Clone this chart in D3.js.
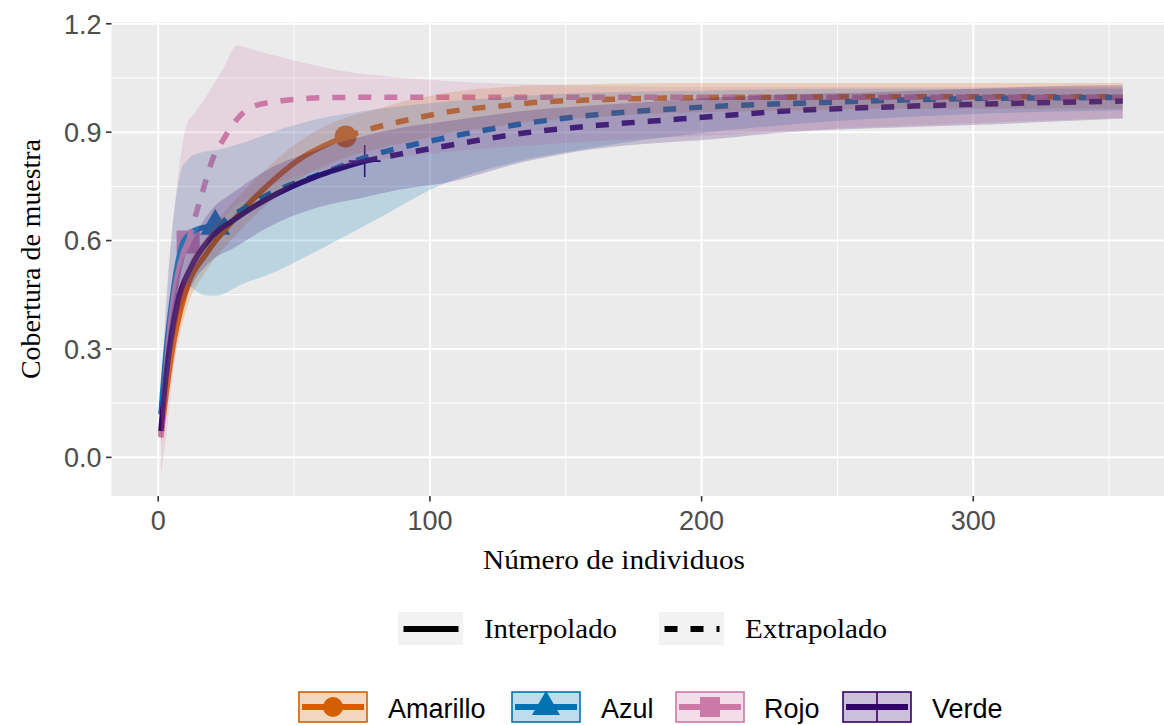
<!DOCTYPE html>
<html lang="es">
<head>
<meta charset="UTF-8">
<title>Cobertura de muestra</title>
<script src="https://d3js.org/d3.v7.min.js"></script>
<style>
  body { margin: 0; background: #fff; }
  svg { display: block; }
  .tick-label { font-family: "Liberation Sans", Arial, sans-serif; font-size: 27px; fill: #4d4d4d; }
  .serif { font-family: "Liberation Serif", "Times New Roman", serif; fill: #000; }
  .leg-label { font-family: "Liberation Sans", Arial, sans-serif; font-size: 27px; fill: #000; }
</style>
</head>
<body>
<svg id="chart" width="1164" height="725"></svg>
<script>
// series
const seriesNames = ["Amarillo", "Azul", "Rojo", "Verde"];
const seriesColors = ["#D55E00", "#0072B2", "#CC79A7", "#330066"];
const observedN = [69, 21, 11, 76];

// Amarillo
const amarilloX  = [1, 5, 10, 18, 28, 40, 52, 69, 81, 90, 100, 109, 119, 128, 138, 158, 177, 197, 230, 270, 310, 355];
const amarilloY  = [0.059, 0.29, 0.456, 0.567, 0.659, 0.751, 0.825, 0.888, 0.915, 0.931, 0.947, 0.959, 0.968, 0.974, 0.982, 0.989, 0.993, 0.996, 0.997, 0.998, 0.998, 0.998];
const amarilloLo = [0.035, 0.23, 0.40, 0.52, 0.61, 0.70, 0.77, 0.83, 0.855, 0.87, 0.885, 0.90, 0.91, 0.92, 0.93, 0.94, 0.95, 0.955, 0.96, 0.965, 0.965, 0.965];
const amarilloHi = [0.085, 0.35, 0.51, 0.615, 0.71, 0.80, 0.875, 0.94, 0.965, 0.985, 1.0, 1.012, 1.02, 1.025, 1.03, 1.033, 1.035, 1.036, 1.036, 1.036, 1.036, 1.036];

// Azul
const azulX  = [1, 3, 5, 7, 8.6, 10.5, 12.3, 15, 17.8, 21, 31, 42, 58, 77, 106, 133, 162, 197, 248, 298, 355];
const azulY  = [0.119, 0.30, 0.43, 0.53, 0.585, 0.61, 0.623, 0.633, 0.638, 0.640, 0.686, 0.733, 0.779, 0.832, 0.885, 0.922, 0.949, 0.968, 0.983, 0.993, 0.996];
const azulLo = [0.09, 0.20, 0.30, 0.42, 0.49, 0.48, 0.47, 0.455, 0.448, 0.447, 0.48, 0.51, 0.57, 0.645, 0.76, 0.82, 0.86, 0.895, 0.93, 0.95, 0.96];
const azulHi = [0.15, 0.42, 0.62, 0.74, 0.80, 0.82, 0.835, 0.842, 0.847, 0.85, 0.87, 0.90, 0.935, 0.96, 0.985, 1.0, 1.01, 1.015, 1.02, 1.02, 1.02];

// Rojo
const rojoX  = [1, 3, 5, 7, 9, 11, 13, 16.6, 20, 24, 29, 34, 44, 52, 64, 100, 150, 200, 250, 300, 355];
const rojoY  = [0.055, 0.25, 0.40, 0.50, 0.56, 0.596, 0.65, 0.742, 0.825, 0.88, 0.936, 0.968, 0.986, 0.992, 0.996, 0.997, 0.997, 0.997, 0.997, 0.997, 0.997];
const rojoLo = [-0.047, 0.06, 0.20, 0.33, 0.42, 0.47, 0.51, 0.57, 0.62, 0.66, 0.70, 0.72, 0.76, 0.78, 0.80, 0.84, 0.87, 0.89, 0.91, 0.925, 0.94];
const rojoHi = [0.16, 0.45, 0.62, 0.76, 0.87, 0.93, 0.95, 0.987, 1.028, 1.076, 1.14, 1.13, 1.11, 1.095, 1.075, 1.045, 1.03, 1.025, 1.025, 1.025, 1.025];

// Verde
const verdeX  = [1, 3, 7, 12, 19, 28, 40, 58, 76, 88, 106, 136, 162, 193, 203, 232, 261, 300, 348, 355];
const verdeY  = [0.073, 0.234, 0.425, 0.525, 0.605, 0.658, 0.715, 0.777, 0.82, 0.838, 0.862, 0.899, 0.919, 0.937, 0.943, 0.959, 0.968, 0.977, 0.985, 0.986];
const verdeLo = [0.045, 0.18, 0.37, 0.47, 0.54, 0.58, 0.635, 0.69, 0.72, 0.74, 0.76, 0.82, 0.855, 0.875, 0.88, 0.90, 0.91, 0.92, 0.935, 0.937];
const verdeHi = [0.10, 0.29, 0.49, 0.59, 0.68, 0.735, 0.795, 0.85, 0.89, 0.91, 0.93, 0.96, 0.975, 0.99, 0.995, 1.005, 1.01, 1.02, 1.03, 1.03];

const xTicks = [0, 100, 200, 300];
const xMinor = [50, 150, 250, 350];
const yTicks = [0, 0.3, 0.6, 0.9, 1.2];
const yMinor = [0.15, 0.45, 0.75, 1.05];
const lineTypes = ["Interpolado", "Extrapolado"];

const allX = [amarilloX, azulX, rojoX, verdeX];
const allY = [amarilloY, azulY, rojoY, verdeY];
const allLo = [amarilloLo, azulLo, rojoLo, verdeLo];
const allHi = [amarilloHi, azulHi, rojoHi, verdeHi];

const series = seriesNames.map((name, i) => ({
  name,
  color: seriesColors[i],
  n: observedN[i],
  pts: allX[i].map((x, j) => ({ x, y: allY[i][j], lo: allLo[i][j], hi: allHi[i][j] }))
}));

const panel = { left: 111.5, top: 22, right: 1170.5, bottom: 496 };

const x = d3.scaleLinear().domain([-17.2, 372.6]).range([panel.left, panel.right]);
const y = d3.scaleLinear().domain([-0.107, 1.205]).range([panel.bottom, panel.top]);

const svg = d3.select("#chart");

svg.append("defs").append("clipPath").attr("id", "clip")
  .append("rect")
  .attr("x", panel.left).attr("y", panel.top)
  .attr("width", panel.right - panel.left).attr("height", panel.bottom - panel.top);

// panel background + grid
svg.append("rect")
  .attr("x", panel.left).attr("y", panel.top)
  .attr("width", panel.right - panel.left).attr("height", panel.bottom - panel.top)
  .attr("fill", "#ebebeb");

const grid = svg.append("g").attr("clip-path", "url(#clip)");
grid.selectAll(".xminor").data(xMinor).enter().append("line")
  .attr("x1", d => x(d)).attr("x2", d => x(d))
  .attr("y1", panel.top).attr("y2", panel.bottom)
  .attr("stroke", "#fff").attr("stroke-width", 1);
grid.selectAll(".yminor").data(yMinor).enter().append("line")
  .attr("x1", panel.left).attr("x2", panel.right)
  .attr("y1", d => y(d)).attr("y2", d => y(d))
  .attr("stroke", "#fff").attr("stroke-width", 1);
grid.selectAll(".xmajor").data(xTicks).enter().append("line")
  .attr("x1", d => x(d)).attr("x2", d => x(d))
  .attr("y1", panel.top).attr("y2", panel.bottom)
  .attr("stroke", "#fff").attr("stroke-width", 2);
grid.selectAll(".ymajor").data(yTicks).enter().append("line")
  .attr("x1", panel.left).attr("x2", panel.right)
  .attr("y1", d => y(d)).attr("y2", d => y(d))
  .attr("stroke", "#fff").attr("stroke-width", 2);

const plot = svg.append("g").attr("clip-path", "url(#clip)");

function drawMarker(g, i, cx, cy, color) {
  if (i === 3) {
    const a = 16;
    g.append("path")
      .attr("d", `M${cx - a},${cy}H${cx + a}M${cx},${cy - a}V${cy + a}`)
      .attr("stroke", color).attr("stroke-width", 1.6).attr("fill", "none");
  } else {
    const sym = [d3.symbolCircle, d3.symbolTriangle, d3.symbolSquare][i];
    const size = [380, 390, 529][i];
    g.append("path")
      .attr("d", d3.symbol(sym, size)())
      .attr("transform", `translate(${cx},${cy})`)
      .attr("fill", color);
  }
}

// points
series.forEach((s, i) => {
  const p = s.pts.find(d => d.x === s.n);
  drawMarker(plot, i, x(p.x), y(p.y), s.color);
});

// lines
const line = d3.line().x(d => x(d.x)).y(d => y(d.y)).curve(d3.curveMonotoneX);
series.forEach(s => {
  plot.append("path")
    .datum(s.pts.filter(d => d.x <= s.n))
    .attr("d", line)
    .attr("fill", "none").attr("stroke", s.color).attr("stroke-width", 5.5);
  plot.append("path")
    .datum(s.pts.filter(d => d.x >= s.n))
    .attr("d", line)
    .attr("fill", "none").attr("stroke", s.color).attr("stroke-width", 5.5)
    .attr("stroke-dasharray", "13,13");
});

// ribbons
const area = d3.area().x(d => x(d.x)).y0(d => y(d.lo)).y1(d => y(d.hi)).curve(d3.curveMonotoneX);
series.forEach(s => {
  plot.append("path")
    .datum(s.pts)
    .attr("d", area)
    .attr("fill", s.color).attr("fill-opacity", 0.2);
});

// axes
const axes = svg.append("g");
axes.selectAll(".ytick").data(yTicks).enter().append("line")
  .attr("x1", panel.left - 5.5).attr("x2", panel.left)
  .attr("y1", d => y(d)).attr("y2", d => y(d))
  .attr("stroke", "#333").attr("stroke-width", 1.6);
axes.selectAll(".ylab").data(yTicks).enter().append("text")
  .attr("class", "tick-label")
  .attr("x", panel.left - 10).attr("y", d => y(d)).attr("dy", "0.36em")
  .attr("text-anchor", "end")
  .text(d => d3.format(".1f")(d));
axes.selectAll(".xtick").data(xTicks).enter().append("line")
  .attr("x1", d => x(d)).attr("x2", d => x(d))
  .attr("y1", panel.bottom).attr("y2", panel.bottom + 5.5)
  .attr("stroke", "#333").attr("stroke-width", 1.6);
axes.selectAll(".xlab").data(xTicks).enter().append("text")
  .attr("class", "tick-label")
  .attr("x", d => x(d)).attr("y", 530)
  .attr("text-anchor", "middle")
  .text(d => d);

svg.append("text").attr("class", "serif")
  .attr("x", 614).attr("y", 569)
  .attr("text-anchor", "middle").attr("font-size", 27.5)
  .attr("textLength", 262).attr("lengthAdjust", "spacingAndGlyphs")
  .text("Número de individuos");

svg.append("text").attr("class", "serif")
  .attr("transform", "translate(40,259) rotate(-90)")
  .attr("text-anchor", "middle").attr("font-size", 27)
  .attr("textLength", 240).attr("lengthAdjust", "spacingAndGlyphs")
  .text("Cobertura de muestra");

// legend: line types
const ltX = [398, 659];
const ltText = [484, 745];
const ltLen = [133, 142];
const lt = svg.append("g");
lineTypes.forEach((t, i) => {
  lt.append("rect")
    .attr("x", ltX[i]).attr("y", 612).attr("width", 65).attr("height", 33)
    .attr("fill", "#f2f2f2");
  lt.append("line")
    .attr("x1", ltX[i] + 5.5).attr("x2", ltX[i] + 60.5)
    .attr("y1", 629).attr("y2", 629)
    .attr("stroke", "#000").attr("stroke-width", 6)
    .attr("stroke-dasharray", i === 1 ? "13,13" : null);
  lt.append("text").attr("class", "serif")
    .attr("x", ltText[i]).attr("y", 638).attr("font-size", 28)
    .attr("textLength", ltLen[i]).attr("lengthAdjust", "spacingAndGlyphs")
    .text(t);
});

// legend: series
const keyX = [299, 512, 676, 843];
const keyTextX = [388, 601, 764, 932];
const lg = svg.append("g");
series.forEach((s, i) => {
  const bx = keyX[i], by = 692, bw = 68, bh = 30;
  lg.append("rect")
    .attr("x", bx).attr("y", by).attr("width", bw).attr("height", bh)
    .attr("fill", "#fff");
  lg.append("rect")
    .attr("x", bx).attr("y", by).attr("width", bw).attr("height", bh)
    .attr("fill", s.color).attr("fill-opacity", 0.25)
    .attr("stroke", s.color).attr("stroke-width", 1.6);
  lg.append("line")
    .attr("x1", bx + 3).attr("x2", bx + bw - 3)
    .attr("y1", by + bh / 2).attr("y2", by + bh / 2)
    .attr("stroke", s.color).attr("stroke-width", 6);
  if (i === 3) {
    lg.append("line")
      .attr("x1", bx + bw / 2).attr("x2", bx + bw / 2)
      .attr("y1", by).attr("y2", by + bh)
      .attr("stroke", s.color).attr("stroke-width", 1.6);
  } else {
    const sym = [d3.symbolCircle, d3.symbolTriangle, d3.symbolSquare][i];
    const size = [314, 340, 400][i];
    lg.append("path")
      .attr("d", d3.symbol(sym, size)())
      .attr("transform", `translate(${bx + bw / 2},${by + bh / 2})`)
      .attr("fill", s.color);
  }
  lg.append("text").attr("class", "leg-label")
    .attr("x", keyTextX[i]).attr("y", 718)
    .text(s.name);
});
</script>
</body>
</html>
